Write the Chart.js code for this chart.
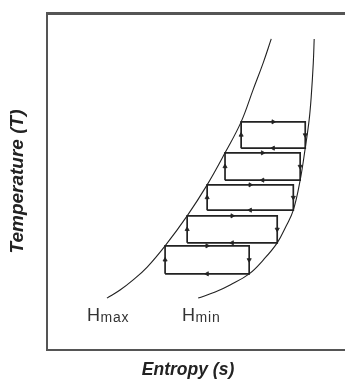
<!DOCTYPE html>
<html>
<head>
<meta charset="utf-8">
<script src="https://cdn.jsdelivr.net/npm/chart.js@4"></script>
<style>
  html, body { margin: 0; padding: 0; background: #fff; overflow: hidden; }
  #box { width: 350px; height: 381px; }
</style>
</head>
<body>
<div id="box"><canvas id="ts"></canvas></div>
<script>
// T-s diagram: the two bounding curves and the stack of rectangular cycles between them
const hmaxS = [20.1, 24.5, 28.9, 33.6, 39.6, 47.0, 53.7, 59.7, 65.1, 69.1, 72.5, 75.2];
const hmaxT = [15.4, 17.8, 20.8, 24.6, 30.9, 39.8, 49.0, 58.5, 67.7, 77.2, 85.2, 92.3];
const hminS = [50.7, 56.4, 61.4, 67.8, 72.5, 77.2, 80.2, 82.6, 84.9, 86.6, 87.9, 88.6, 89.3, 89.6];
const hminT = [15.4, 17.2, 19.3, 22.6, 26.7, 31.8, 36.8, 41.5, 50.4, 59.9, 68.2, 75.1, 85.2, 92.3];

// each cycle: [s low, s high, T low, T high]
const cycles = [
    [39.6, 67.8, 22.6, 30.9],
    [47.0, 77.2, 31.8, 39.8],
    [53.7, 82.6, 41.5, 49.0],
    [59.7, 84.9, 50.4, 58.5],
    [65.1, 86.6, 59.9, 67.7]
];

const curveLabels = [
    { s: 13.4, t: 8.6, main: 'H', sub: 'max' },
    { s: 45.3, t: 8.6, main: 'H', sub: 'min' }
];
const xTitle = 'Entropy (s)';
const yTitle = 'Temperature (T)';

const FONT = '"Liberation Sans", Arial, sans-serif';
const INK = '#222';

function toPoints(xs, ys) {
    return xs.map((x, i) => ({ x: x, y: ys[i] }));
}

let datasets = [
    { data: toPoints(hmaxS, hmaxT), borderColor: INK, borderWidth: 1.1, tension: 0.4, pointRadius: 0 },
    { data: toPoints(hminS, hminT), borderColor: INK, borderWidth: 1.1, tension: 0.4, pointRadius: 0 }
];

// rectangles, plus a small arrow head in the middle of each side
let arrows = [];
let arrowRot = [];
for (let i = 0; i < cycles.length; i++) {
    let [s0, s1, t0, t1] = cycles[i];
    datasets.push({
        data: [{x: s0, y: t0}, {x: s0, y: t1}, {x: s1, y: t1}, {x: s1, y: t0}, {x: s0, y: t0}],
        borderColor: INK, borderWidth: 1.7, tension: 0, pointRadius: 0
    });
    let sm = (s0 + s1) / 2, tm = (t0 + t1) / 2;
    arrows.push({x: sm, y: t1}); arrowRot.push(90);
    arrows.push({x: s1, y: tm}); arrowRot.push(180);
    arrows.push({x: sm, y: t0}); arrowRot.push(270);
    arrows.push({x: s0, y: tm}); arrowRot.push(0);
}
datasets.push({
    data: arrows, showLine: false,
    pointStyle: 'triangle', pointRadius: 2.4,
    pointRotation: ctx => arrowRot[ctx.dataIndex],
    pointBackgroundColor: INK, pointBorderColor: INK, pointBorderWidth: 0.8
});

// H_max / H_min tags and the entropy caption under the plot
const textLayer = {
    id: 'textLayer',
    afterDatasetsDraw(chart) {
        const ctx = chart.ctx;
        const xs = chart.scales.x, ys = chart.scales.y;
        ctx.save();
        ctx.fillStyle = '#333';
        ctx.textBaseline = 'alphabetic';
        ctx.textAlign = 'left';
        for (const l of curveLabels) {
            let px = xs.getPixelForValue(l.s), py = ys.getPixelForValue(l.t);
            ctx.font = '18px ' + FONT;
            ctx.fillText(l.main, px, py);
            let w = ctx.measureText(l.main).width;
            ctx.font = '14px ' + FONT;
            ctx.letterSpacing = '0.8px';
            ctx.fillText(l.sub, px + w + 0.5, py + 0.5);
            ctx.letterSpacing = '0px';
        }
        ctx.font = 'italic bold 17.5px ' + FONT;
        ctx.fillStyle = INK;
        ctx.textAlign = 'center';
        ctx.textBaseline = 'middle';
        ctx.fillText(xTitle, xs.getPixelForValue(47.3), chart.chartArea.bottom + 20);
        ctx.restore();
    }
};

function hiddenAxis(extra) {
    return Object.assign({
        type: 'linear', min: 0, max: 100,
        ticks: { display: false },
        grid: { display: false, drawTicks: false },
        border: { display: true, color: '#555', width: 2 }
    }, extra);
}

new Chart(document.getElementById('ts'), {
    type: 'scatter',
    data: { datasets: datasets },
    options: {
        responsive: true,
        maintainAspectRatio: false,
        animation: false,
        layout: { padding: { top: 13, left: 0, right: 0, bottom: 31 } },
        plugins: { legend: { display: false }, tooltip: { enabled: false } },
        elements: { line: { fill: false } },
        datasets: { scatter: { showLine: true } },
        scales: {
            x: hiddenAxis({ position: 'bottom' }),
            x2: hiddenAxis({
                position: 'top',
                border: { display: true, color: '#555', width: 3 }
            }),
            y: hiddenAxis({
                position: 'left',
                title: {
                    display: true, text: yTitle, color: INK,
                    font: { family: FONT, size: 19, style: 'italic', weight: 'bold' },
                    padding: { top: 6.6, bottom: 17.6 }
                }
            })
        }
    },
    plugins: [textLayer]
});
</script>
</body>
</html>
